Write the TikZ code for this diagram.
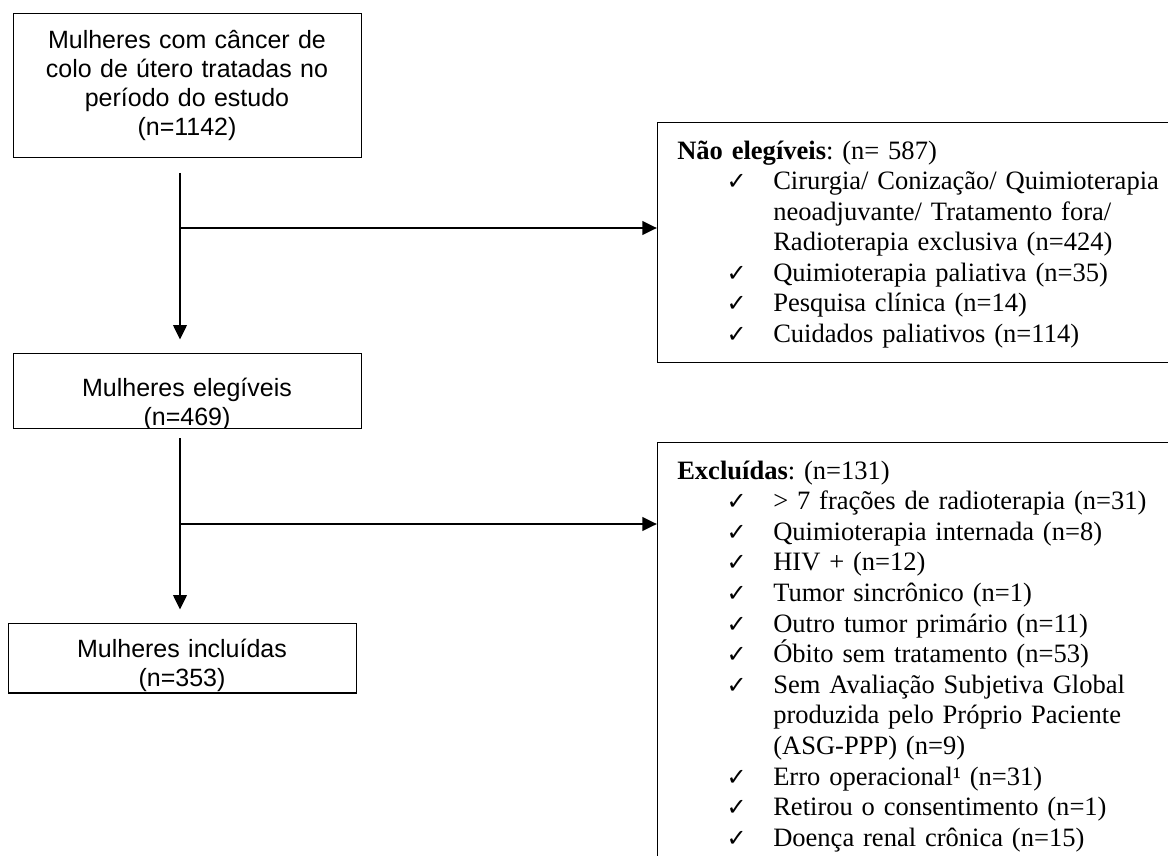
\documentclass[tikz,border=0pt]{standalone}
\usepackage{fontspec}
\setmainfont{Liberation Serif}
\setsansfont{Liberation Sans}
\newfontfamily\checkfont{DejaVu Sans}
\usetikzlibrary{positioning,arrows.meta}
\frenchspacing

\newcommand{\chkitem}{\par\hangindent=72pt\hangafter=1\hspace*{37pt}\makebox[35pt][l]{\checkfont\fontsize{18pt}{18pt}\selectfont ✓}}

\begin{document}
\begin{tikzpicture}[x=0.75pt, y=-0.75pt,
    flowbox/.style={draw, line width=0.9pt, rectangle, anchor=north west, inner sep=0pt},
    flowtext/.style={anchor=base, inner sep=0pt, text width=250pt, align=center, font=\sffamily\fontsize{18.75pt}{21.75pt}\selectfont},
    sidetext/.style={anchor=base west, inner sep=0pt, text width=370pt, align=left, font=\fontsize{19.9pt}{22.95pt}\selectfont},
    flowarrow/.style={line width=2.2pt, -{Triangle[length=11pt,width=10pt]}}]
    \useasboundingbox (0,0) rectangle (1168,856);
    \clip (0,0) rectangle (1168,856);

    % boxes on the left
    \node[flowbox, minimum width=261pt, minimum height=108pt] (inicio) at (13,13) {};
    \node[flowbox, minimum width=261pt, minimum height=56pt] (eleg) at (13,353) {};
    \node[flowbox, minimum width=261pt, minimum height=52pt] (incl) at (8,623) {};
    % boxes on the right
    \node[flowbox, minimum width=405pt, minimum height=180pt] (naoeleg) at (657,122) {};
    \node[flowbox, minimum width=405pt, minimum height=330pt] (exclu) at (657,442) {};

    \node[flowtext] (inicio-txt) at (187,49) {Mulheres com câncer de\\colo de útero tratadas no\\período do estudo\\(n=1142)};
    \begin{scope}
        \clip (eleg.north west) rectangle (eleg.south east);
        \node[flowtext] (eleg-txt) at (187,396) {Mulheres elegíveis\\(n=469)};
    \end{scope}
    \begin{scope}
        \clip (incl.north west) rectangle (incl.south east);
        \node[flowtext] (incl-txt) at (182,657) {Mulheres incluídas\\(n=353)};
    \end{scope}

    \node[sidetext] (naoeleg-txt) at (677,159) {\textbf{Não elegíveis}: (n= 587)
        \chkitem Cirurgia/ Conização/ Quimioterapia\newline neoadjuvante/ Tratamento fora/\newline Radioterapia exclusiva (n=424)
        \chkitem Quimioterapia paliativa (n=35)
        \chkitem Pesquisa clínica (n=14)
        \chkitem Cuidados paliativos (n=114)};
    \node[sidetext] (exclu-txt) at (677,479) {\textbf{Excluídas}: (n=131)
        \chkitem > 7 frações de radioterapia (n=31)
        \chkitem Quimioterapia internada (n=8)
        \chkitem HIV + (n=12)
        \chkitem Tumor sincrônico (n=1)
        \chkitem Outro tumor primário (n=11)
        \chkitem Óbito sem tratamento (n=53)
        \chkitem Sem Avaliação Subjetiva Global\newline produzida pelo Próprio Paciente\newline (ASG-PPP) (n=9)
        \chkitem Erro operacional¹ (n=31)
        \chkitem Retirou o consentimento (n=1)
        \chkitem Doença renal crônica (n=15)};

    % arrows
    \coordinate (k1) at (180,228);
    \coordinate (k2) at (180,524);
    \draw[flowarrow, shorten <=11pt, shorten >=10pt] (inicio.south -| k1) -- (eleg.north -| k1);
    \draw[flowarrow] (k1) -- (k1 -| naoeleg.west);
    \draw[flowarrow, shorten <=7pt, shorten >=10pt] (eleg.south -| k2) -- (incl.north -| k2);
    \draw[flowarrow] (k2) -- (k2 -| exclu.west);
\end{tikzpicture}
\end{document}
